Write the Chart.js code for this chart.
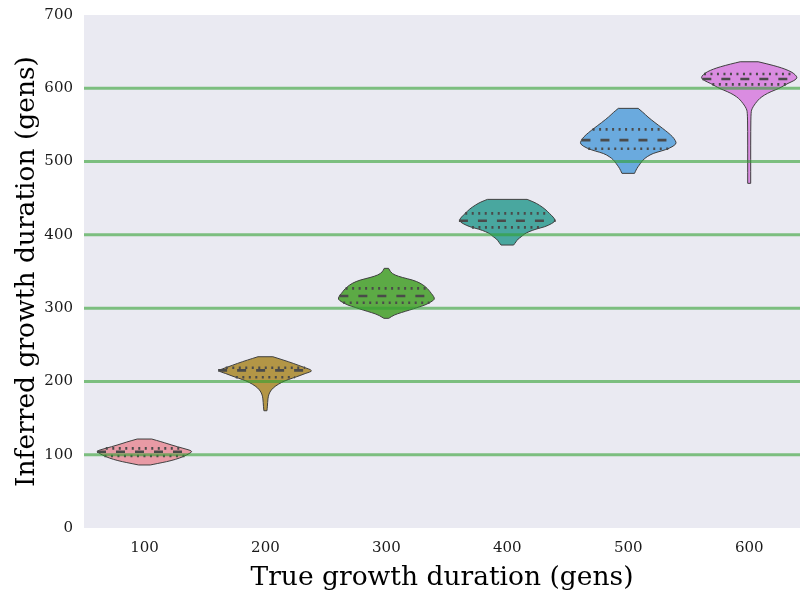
<!DOCTYPE html>
<html>
<head>
<meta charset="utf-8">
<script src="https://cdn.jsdelivr.net/npm/chart.js@4.4.1/dist/chart.umd.min.js"></script>
<style>
  html, body { margin: 0; padding: 0; background: #fff; }
  #wrap { width: 800px; height: 599px; }
</style>
</head>
<body>
<div id="wrap"><canvas id="violinChart" width="800" height="599"></canvas></div>
<script>
// values
const categories = [100, 200, 300, 400, 500, 600];
const xTicks = [100, 200, 300, 400, 500, 600];
const yTicks = [0, 100, 200, 300, 400, 500, 600, 700];

// density outline of each violin: heights (gens), top to bottom, and relative half width
const heights100 = [121.4, 117.3, 113.2, 108.7, 105.0, 101.6, 97.3, 93.5, 90.5, 88.0, 86.0];
const widths100  = [0.15, 0.37, 0.56, 0.80, 1.0, 0.93, 0.80, 0.64, 0.46, 0.27, 0.12];
const heights200 = [233.7, 229.2, 224.7, 219.6, 214.6, 210.8, 206.4, 202.6, 198.8, 193.7, 188.3, 182.8, 176.9, 165.5, 160.0];
const widths200  = [0.154, 0.37, 0.575, 0.78, 1.0, 0.82, 0.65, 0.47, 0.335, 0.205, 0.117, 0.072, 0.051, 0.041, 0.031];
const heights300 = [354.3, 349.3, 345.2, 341.8, 338.3, 334.2, 329.2, 324.7, 320.2, 315.8, 312.0, 308.3, 304.2, 300.8, 297.4, 294.0, 290.6, 286.1];
const widths300  = [0.045, 0.082, 0.171, 0.33, 0.55, 0.70, 0.81, 0.876, 0.928, 0.98, 1.0, 0.918, 0.80, 0.64, 0.48, 0.31, 0.155, 0.05];
const heights400 = [448.4, 444.8, 440.7, 435.2, 429.3, 424.3, 419.2, 415.4, 411.0, 407.9, 404.2, 401.1, 397.4, 394.3, 390.6, 386.1];
const widths400  = [0.41, 0.55, 0.66, 0.78, 0.87, 0.95, 1.0, 0.92, 0.78, 0.59, 0.44, 0.35, 0.29, 0.22, 0.18, 0.13];
const heights500 = [572.6, 566.9, 561.1, 553.2, 545.3, 539.6, 533.8, 528.6, 523.9, 518.0, 514.3, 511.2, 506.8, 502.0, 497.3, 492.9, 488.4, 483.9];
const widths500  = [0.205, 0.31, 0.40, 0.55, 0.71, 0.82, 0.92, 0.975, 1.0, 0.85, 0.68, 0.51, 0.39, 0.30, 0.25, 0.20, 0.16, 0.13];
const heights600 = [636.2, 633.0, 629.3, 626.2, 622.5, 618.7, 614.3, 610.5, 606.7, 603.0, 599.9, 595.5, 590.7, 586.2, 581.6, 577.1, 572.6, 567.9, 543.0, 502.0, 470.3];
const widths600  = [0.186, 0.39, 0.60, 0.74, 0.87, 0.95, 1.0, 0.93, 0.80, 0.70, 0.62, 0.45, 0.31, 0.216, 0.155, 0.103, 0.062, 0.037, 0.031, 0.031, 0.031];

const medians        = [104.1, 215.1, 316.5, 419.2, 529.3, 612.6];
const upperQuartiles = [108.7, 218.7, 327.0, 429.3, 543.9, 619.4];
const lowerQuartiles = [98.2, 205.6, 307.4, 410.2, 517.5, 605.3];

const allHeights = [heights100, heights200, heights300, heights400, heights500, heights600];
const allWidths = [widths100, widths200, widths300, widths400, widths500, widths600];

const violinColors = ['#e89aa5', '#b39646', '#5caa45', '#49a79f', '#6aaade', '#da8ce1'];
const maxHalfWidth = 40; // gens
const serif = "'DejaVu Serif', serif";

// width of a violin at a given height (linear between outline points)
function widthAt(hs, ws, v) {
  for (let k = 0; k < hs.length - 1; k++) {
    if (v <= hs[k] && v >= hs[k + 1]) {
      const t = (hs[k] - v) / (hs[k] - hs[k + 1]);
      return ws[k] + t * (ws[k + 1] - ws[k]);
    }
  }
  return 0;
}

// smooth run through points, ends fixed
function smoothSide(ctx, pts) {
  ctx.lineTo(pts[0][0], pts[0][1]);
  for (let k = 1; k < pts.length - 1; k++) {
    const mx = (pts[k][0] + pts[k + 1][0]) / 2;
    const my = (pts[k][1] + pts[k + 1][1]) / 2;
    ctx.quadraticCurveTo(pts[k][0], pts[k][1], mx, my);
  }
  const last = pts[pts.length - 1];
  ctx.lineTo(last[0], last[1]);
}

const areaBg = {
  id: 'areaBg',
  beforeDraw(chart) {
    const { ctx, chartArea } = chart;
    ctx.save();
    ctx.fillStyle = '#eaeaf2';
    ctx.fillRect(chartArea.left, chartArea.top, chartArea.width, chartArea.height);
    ctx.restore();
  }
};

const violins = {
  id: 'violins',
  beforeDatasetsDraw(chart) {
    const { ctx, chartArea, scales: { x, y } } = chart;
    ctx.save();
    ctx.beginPath();
    ctx.rect(chartArea.left, chartArea.top, chartArea.width, chartArea.height);
    ctx.clip();
    categories.forEach((cat, i) => {
      const hs = allHeights[i], ws = allWidths[i];
      const cx = x.getPixelForValue(cat);
      const half = w => x.getPixelForValue(cat + w * maxHalfWidth) - cx;
      const right = hs.map((h, k) => [cx + half(ws[k]), y.getPixelForValue(h)]);
      const left = hs.map((h, k) => [cx - half(ws[k]), y.getPixelForValue(h)]).reverse();

      ctx.beginPath();
      ctx.moveTo(left[left.length - 1][0], left[left.length - 1][1]);
      smoothSide(ctx, right);
      smoothSide(ctx, left);
      ctx.closePath();
      ctx.fillStyle = violinColors[i];
      ctx.fill();
      ctx.lineWidth = 1;
      ctx.strokeStyle = '#3f3f3f';
      ctx.lineJoin = 'round';
      ctx.stroke();

      // quartile lines
      const stats = [[medians[i], [9, 10]], [upperQuartiles[i], [2, 4.5]], [lowerQuartiles[i], [2, 4.5]]];
      stats.forEach(([v, dash]) => {
        const hw = half(widthAt(hs, ws, v));
        const py = y.getPixelForValue(v);
        ctx.beginPath();
        ctx.setLineDash(dash);
        ctx.lineWidth = 2.6;
        ctx.strokeStyle = '#4a4a4a';
        ctx.moveTo(cx - hw, py);
        ctx.lineTo(cx + hw, py);
        ctx.stroke();
      });
      ctx.setLineDash([]);
    });
    ctx.restore();
  }
};

// true-duration reference lines, drawn over the violins
const truthLines = categories.map(c => ({
  data: [{ x: 0, y: c }, { x: 700, y: c }],
  showLine: true,
  borderColor: 'rgba(50,160,50,0.6)',
  borderWidth: 3,
  pointRadius: 0
}));

new Chart(document.getElementById('violinChart').getContext('2d'), {
  type: 'scatter',
  data: { datasets: truthLines },
  options: {
    responsive: false,
    animation: false,
    layout: { padding: { top: 15, right: 0, bottom: 0, left: 0 } },
    plugins: { legend: { display: false }, tooltip: { enabled: false } },
    scales: {
      x: {
        type: 'linear',
        min: 50,
        max: 642,
        afterBuildTicks: s => { s.ticks = xTicks.map(v => ({ value: v })); },
        afterFit: s => { s.height = 71; },
        grid: { display: false, drawTicks: false },
        border: { display: false },
        ticks: { padding: 11, color: '#1a1a1a', font: { family: serif, size: 15 } },
        title: { display: true, text: 'True growth duration (gens)', color: '#000',
                 font: { family: serif, size: 26.5 }, padding: { top: 0, bottom: 5 } }
      },
      y: {
        type: 'linear',
        min: 0,
        max: 700,
        afterBuildTicks: s => { s.ticks = yTicks.map(v => ({ value: v })); },
        afterFit: s => { s.width = 84; s.paddingTop = 0; s.paddingBottom = 0; },
        grid: { display: false, drawTicks: false },
        border: { display: false },
        ticks: { padding: 11, color: '#1a1a1a', font: { family: serif, size: 15 } },
        title: { display: true, text: 'Inferred growth duration (gens)', color: '#000',
                 font: { family: serif, size: 26.5 }, padding: { top: 11, bottom: 0 } }
      }
    }
  },
  plugins: [areaBg, violins]
});
</script>
</body>
</html>
